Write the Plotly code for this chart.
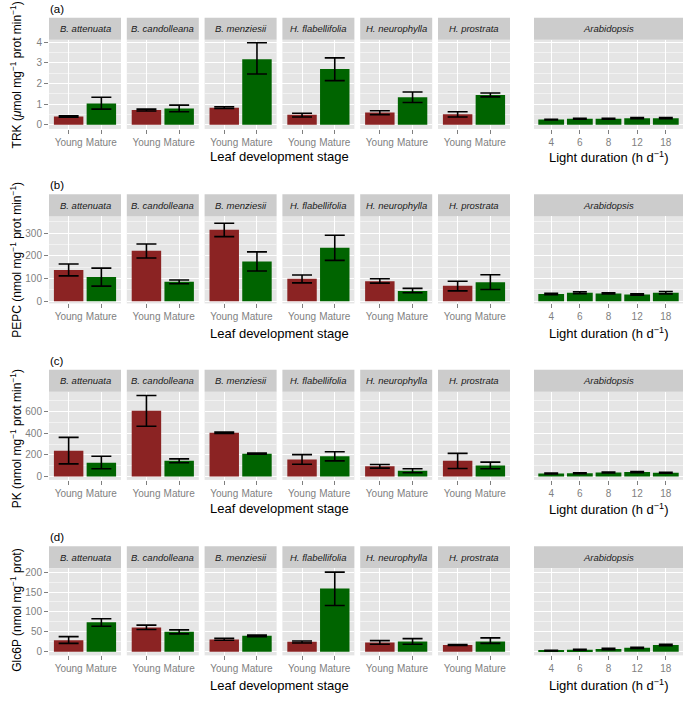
import plotly.graph_objects as go

W, H = 687, 701

species = ["B. attenuata", "B. candolleana", "B. menziesii",
           "H. flabellifolia", "H. neurophylla", "H. prostrata"]
stages = ["Young", "Mature"]
light_hours = ["4", "6", "8", "12", "18"]

# ---- (a) TRK ----
trk_young = [0.40, 0.72, 0.83, 0.48, 0.59, 0.51]
trk_young_lo = [0.37, 0.67, 0.79, 0.38, 0.49, 0.38]
trk_young_hi = [0.43, 0.76, 0.87, 0.56, 0.68, 0.63]
trk_mature = [1.03, 0.79, 3.17, 2.70, 1.33, 1.44]
trk_mature_lo = [0.76, 0.63, 2.46, 2.14, 1.08, 1.35]
trk_mature_hi = [1.33, 0.95, 3.97, 3.24, 1.59, 1.54]
trk_arab = [0.25, 0.29, 0.29, 0.32, 0.32]
trk_arab_err = [0.02, 0.02, 0.02, 0.03, 0.03]

# ---- (b) PEPC ----
pepc_young = [138, 222, 314, 99, 88, 68]
pepc_young_lo = [112, 190, 284, 81, 80, 46]
pepc_young_hi = [164, 252, 343, 116, 99, 88]
pepc_mature = [107, 86, 175, 235, 46, 84]
pepc_mature_lo = [67, 77, 133, 180, 38, 52]
pepc_mature_hi = [146, 94, 217, 290, 57, 117]
pepc_arab = [32, 38, 35, 30, 38]
pepc_arab_err = [3, 4, 3, 3, 5]

# ---- (c) PK ----
pk_young = [238, 605, 404, 157, 96, 145]
pk_young_lo = [117, 464, 398, 114, 78, 75]
pk_young_hi = [361, 747, 410, 202, 111, 214]
pk_mature = [127, 145, 211, 187, 54, 102]
pk_mature_lo = [72, 127, 206, 145, 36, 72]
pk_mature_hi = [187, 163, 216, 229, 72, 133]
pk_arab = [28, 30, 38, 42, 36]
pk_arab_err = [4, 4, 4, 5, 4]

# ---- (d) Glc6P ----
g6p_young = [29, 61, 31, 25, 23, 17]
g6p_young_lo = [21, 56, 29, 22, 19, 16]
g6p_young_hi = [38, 67, 34, 27, 28, 18]
g6p_mature = [74, 50, 40, 159, 26, 26]
g6p_mature_lo = [64, 45, 38, 116, 19, 21]
g6p_mature_hi = [83, 55, 42, 200, 33, 35]
g6p_arab = [3, 5, 7, 10, 17]
g6p_arab_err = [1, 1, 1.5, 1.5, 2]

row_labels = ["(a)", "(b)", "(c)", "(d)"]
y_titles = ["TRK (<i>μ</i>mol mg<sup>−1</sup> prot min<sup>−1</sup>)",
            "PEPC (nmol mg<sup>−1</sup> prot min<sup>−1</sup>)",
            "PK (nmol mg<sup>−1</sup> prot min<sup>−1</sup>)",
            "Glc6P (nmol mg<sup>−1</sup> prot)"]

rows_data = [
    (trk_young, trk_young_lo, trk_young_hi, trk_mature, trk_mature_lo, trk_mature_hi, trk_arab, trk_arab_err),
    (pepc_young, pepc_young_lo, pepc_young_hi, pepc_mature, pepc_mature_lo, pepc_mature_hi, pepc_arab, pepc_arab_err),
    (pk_young, pk_young_lo, pk_young_hi, pk_mature, pk_mature_lo, pk_mature_hi, pk_arab, pk_arab_err),
    (g6p_young, g6p_young_lo, g6p_young_hi, g6p_mature, g6p_mature_lo, g6p_mature_hi, g6p_arab, g6p_arab_err),
]

# layout geometry (pixels)
row_geom = [(15, 37, 127), (193, 215, 303), (370, 392, 481), (548, 570, 658)]
y_ranges = [[-0.2, 4.12], [-9, 374], [-30, 782], [-9, 210]]
y_dticks = [1, 100, 200, 50]
title_y = [73, 259, 440, 613]
xtitle_y = [155, 333, 510, 688]
col_left = [49 + 77.8 * i for i in range(6)]
col_w = 72
arab_l, arab_r = 534, 683

RED = "#8B2323"
GREEN = "#006400"
FONT = "Liberation Sans, Arial, sans-serif"

def px(p):
    return p / W

def py(p):
    return 1 - p / H

fig = go.Figure()
layout = dict(width=W, height=H, margin=dict(l=0, r=0, t=0, b=0),
              paper_bgcolor="white", plot_bgcolor="#E5E5E5",
              showlegend=False, font=dict(family=FONT),
              shapes=[], annotations=[])

k = 0
for r, data in enumerate(rows_data):
    yv, ylo, yhi, mv, mlo, mhi, av, aerr = data
    st, pt, pb = row_geom[r]
    for c in range(7):
        k += 1
        xa = "x" if k == 1 else f"x{k}"
        ya = "y" if k == 1 else f"y{k}"
        if c < 6:
            left, right = col_left[c], col_left[c] + col_w
            xs = stages
            ys = [yv[c], mv[c]]
            up = [yhi[c] - yv[c], mhi[c] - mv[c]]
            dn = [yv[c] - ylo[c], mv[c] - mlo[c]]
            colors = [RED, GREEN]
            xr = [-0.6, 1.6]
            label = species[c]
            capw = 10
        else:
            left, right = arab_l, arab_r
            xs = light_hours
            ys = av
            up = aerr
            dn = aerr
            colors = [GREEN] * 5
            xr = [-0.6, 4.6]
            label = "Arabidopsis"
            capw = 7
        fig.add_trace(go.Bar(
            x=xs, y=ys, width=0.9, marker=dict(color=colors, line=dict(width=0)),
            error_y=dict(type="data", symmetric=False, array=up, arrayminus=dn,
                         color="black", thickness=1.6, width=capw),
            xaxis=xa, yaxis=ya, hoverinfo="skip"))
        xkey = "xaxis" if k == 1 else f"xaxis{k}"
        ykey = "yaxis" if k == 1 else f"yaxis{k}"
        layout[xkey] = dict(domain=[px(left), px(right)], anchor=ya, type="category",
                            range=xr, showgrid=True, gridcolor="white", gridwidth=1.1,
                            ticks="outside", ticklen=4, tickcolor="#7F7F7F", tickwidth=1,
                            tickfont=dict(size=10, color="#7F7F7F", family=FONT),
                            showline=False, zeroline=False, fixedrange=True)
        layout[ykey] = dict(domain=[py(pb), py(pt)], anchor=xa, range=y_ranges[r],
                            tick0=0, dtick=y_dticks[r], showgrid=True, gridcolor="white",
                            gridwidth=1.1, zeroline=False, showline=False,
                            minor=dict(dtick=y_dticks[r] / 2, tick0=0, showgrid=True,
                                       gridcolor="#F2F2F2", gridwidth=0.6),
                            ticks="outside" if c == 0 else "", ticklen=4,
                            tickcolor="#7F7F7F", showticklabels=(c == 0),
                            tickfont=dict(size=10, color="#7F7F7F", family=FONT),
                            fixedrange=True)
        # strip
        layout["shapes"].append(dict(type="rect", xref="paper", yref="paper",
                                     x0=px(left), x1=px(right), y0=py(pt), y1=py(st),
                                     fillcolor="#CCCCCC", line=dict(width=0), layer="below"))
        layout["annotations"].append(dict(text=f"<i>{label}</i>", xref="paper", yref="paper",
                                          x=px((left + right) / 2), y=py((st + pt) / 2),
                                          showarrow=False, xanchor="center", yanchor="middle",
                                          font=dict(size=9.5, color="#1A1A1A", family=FONT)))
    # row annotations
    layout["annotations"].append(dict(text=row_labels[r], xref="paper", yref="paper",
                                      x=px(48), y=py(st - 9), showarrow=False,
                                      xanchor="left", yanchor="middle",
                                      font=dict(size=11.5, color="black", family=FONT)))
    layout["annotations"].append(dict(text=y_titles[r], xref="paper", yref="paper",
                                      x=px(16), y=py(title_y[r]), showarrow=False,
                                      textangle=-90, xanchor="center", yanchor="middle",
                                      font=dict(size=12, color="black", family=FONT)))
    layout["annotations"].append(dict(text="Leaf development stage", xref="paper", yref="paper",
                                      x=px((col_left[0] + col_left[5] + col_w) / 2),
                                      y=py(xtitle_y[r]), showarrow=False,
                                      xanchor="center", yanchor="middle",
                                      font=dict(size=13, color="black", family=FONT)))
    layout["annotations"].append(dict(text="Light duration (h d<sup>−1</sup>)", xref="paper",
                                      yref="paper", x=px((arab_l + arab_r) / 2),
                                      y=py(xtitle_y[r]), showarrow=False,
                                      xanchor="center", yanchor="middle",
                                      font=dict(size=13, color="black", family=FONT)))

fig.update_layout(**layout)
fig.write_html("out.html", config={"displayModeBar": False},
               post_script="document.body.style.margin='0';document.body.style.padding='0';")
